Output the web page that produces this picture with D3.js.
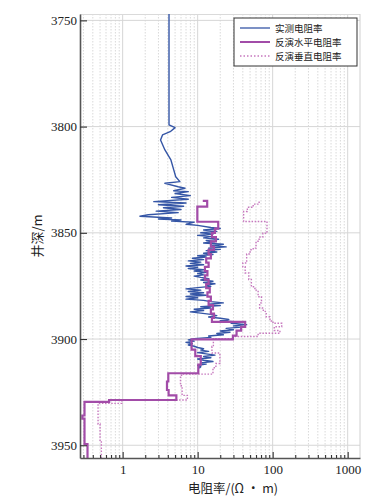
<!DOCTYPE html>
<html><head><meta charset="utf-8">
<script src="https://cdn.jsdelivr.net/npm/d3@7"></script>
<style>body{margin:0;background:#fff}</style>
</head><body><svg id="c" width="389" height="498"></svg>
<script>
const depthDomain = [3747, 3956];
const resDomain = [0.27, 1460];
const depthTicks = [3750, 3800, 3850, 3900, 3950];
const resTicks = [1, 10, 100, 1000];
const seriesNames = ["实测电阻率", "反演水平电阻率", "反演垂直电阻率"];
const yTitle = "井深/m";
const xTitle = "电阻率/(Ω · m)";

// measured resistivity
const measDepth = [3747,3799.2,3800.5,3802.4,3803.9,3806.3,3811,3815.7,3820.4,3823.6,3825.9,3826.7,3828.3,3829,3830.2,3830.6,3831.5,3832.5,3833.3,3834.2,3835.3,3836,3836.8,3837.5,3838.2,3839,3839.8,3840.5,3841.5,3842.2,3843,3843.5,3844,3844.5,3845,3846,3846.5,3847.5,3848,
3848.7,3849.3,3850,3850.6,3851.2,3851.8,3852.4,3853,3853.6,3854.2,3854.8,3855.4,3856,3856.6,3857.2,3857.8,3858.4,3859,3859.6,3860.2,3860.8,3861.4,3862,3862.6,3863.2,3863.8,3864.4,3865,3865.6,3866.2,3866.8,3867.4,3868,3868.6,3869.2,3869.8,3870.4,3871,3871.6,3872.2,3872.8,3873.4,3874,3874.6,3875.2,3875.8,3876.4,3877,3877.6,3878.2,3878.8,3879.4,3880,3880.6,3881.2,3881.8,3882.4,3883,3883.6,3884.2,3884.8,3885.4,3886,3886.6,3887.2,3887.8,3888.4,3889,3889.6,3890.2,3890.8,3891.4,3892,3892.6,3893.2,3893.8,3894.4,3895,3895.6,3896.2,3896.8,3897.4,3898,3898.6,3899.2,3899.8,3900.4,3901,3901.6,3902.2,3902.8,3903.4,3904,3904.6,3905.2,3905.8,3906.4,3907,3907.6,3908.2,3908.8,3909.4,3910,3910.6,3911.2,3911.8,3912.4,3913,3913.7];
const measRes = [4.15,4.15,5.0,4.3,3.4,3.2,3.66,4.4,4.8,5.1,5.8,3.66,5.5,6.8,4.8,7.5,5.0,8.0,4.5,7.5,2.6,7.0,3.0,6.5,3.5,6.0,2.8,5.5,2.2,1.7,4.5,3.0,6.0,4.5,9.0,7.0,10,15,20,
12,18,11,16,10,15,12,19,13,17,12,22,15,24,14,20,13,18,12,16,10,13,8.5,12,7.5,11,8,12,7,10,7.5,12,9,13,10,12,9,11,14,11,16,12,17,13,15,10,7,11,7.5,12,8,13,7,10,7,12,15,22,14,20,11,15,9,12,8,11,15,18,14,20,26,20,34,28,45,30,38,24,30,20,27,18,22,14,15,9,7.5,9,7,8.5,7.5,9,10,12,11,14,10,13,17,12,15,10,12,16,11,13,10,11,10.5];

// inverted horizontal resistivity (layer top depth, value)
const horDepth = [3835.0,3835.0,3837.7,3844.8,3848,3850,3852,3854,3856.5,3858,3860,3862,3864,3866,3868,3870,3872,3874,3876,3878,3880,3882,3884,3886,3888,3890,3891.9,3894.3,3896,3898.4,3900.2,3905,3908,3912,3916.1,3920,3924,3926.5,3928.7,3929.6,3936,3937.5,3949.5,3956];
const horRes = [11.7,13.4,9.9,18.8,17,15.5,17.5,15,16.5,14,15,13,14,12.5,13.5,12.5,14,13,14.5,13.5,15,14,16,15,16.5,15.5,43,38,33,29.5,8.3,9.3,11,10.2,4.06,3.9,4.1,5.2,0.66,0.31,0.29,0.31,0.34,0.34];

// inverted vertical resistivity (layer top depth, value)
const verDepth = [3835.3,3836.5,3838,3840,3844.7,3850.2,3852,3854,3857.2,3858,3860,3864.2,3866,3868.9,3872,3875.4,3877,3880.1,3883,3885.4,3887,3889.5,3891.5,3892.6,3894.2,3896,3897.3,3898.8,3899.9,3903.5,3906.6,3911.5,3913.5,3916.5,3918,3922,3926.5,3928.7,3930.3,3940,3948,3956];
const verRes = [66,55,46,41,84,74,66,60,55,50,45,40,43,48,52,58,64,71,67,75,82,92,101,132,105,125,64,29.5,16.2,15.5,19.8,17.5,16,6.1,5.9,6.2,7.3,0.97,0.47,0.5,0.52,0.52];

const colors = ["#3556a6", "#a24ca8", "#c677be"];

const L = 80, R = 360, T = 14, B = 458;
const svg = d3.select("#c");
const x = d3.scaleLog().domain(resDomain).range([L, R]);
const y = d3.scaleLinear().domain(depthDomain).range([T, B]);

const minor = [];
for (let e = -1; e <= 3; e++) for (let k = 2; k <= 9; k++) {
  const v = k * Math.pow(10, e);
  if (v > resDomain[0] && v < resDomain[1]) minor.push(+v.toPrecision(3));
}

// grid
const g = svg.append("g");
g.selectAll(".vmin").data(minor).enter().append("line")
  .attr("x1", d => x(d)).attr("x2", d => x(d)).attr("y1", T).attr("y2", B)
  .attr("stroke", "#cfcfcf").attr("stroke-width", 0.8).attr("stroke-dasharray", "1.5,1.5");
g.selectAll(".vmaj").data(resTicks).enter().append("line")
  .attr("x1", d => x(d)).attr("x2", d => x(d)).attr("y1", T).attr("y2", B)
  .attr("stroke", "#d6d6d6").attr("stroke-width", 1);
g.selectAll(".hmaj").data(depthTicks).enter().append("line")
  .attr("x1", L).attr("x2", R).attr("y1", d => y(d)).attr("y2", d => y(d))
  .attr("stroke", "#d6d6d6").attr("stroke-width", 1);
g.append("line").attr("x1", L).attr("x2", R).attr("y1", T + 0.5).attr("y2", T + 0.5).attr("stroke", "#dadada");
g.append("line").attr("x1", R).attr("x2", R).attr("y1", T).attr("y2", B).attr("stroke", "#d0d0d0");

svg.append("clipPath").attr("id", "clip").append("rect")
  .attr("x", L).attr("y", T).attr("width", R - L).attr("height", B - T);
const plot = svg.append("g").attr("clip-path", "url(#clip)");

const mk = (ds, vs) => ds.map((d, i) => ({ d, v: vs[i] }));
const lineLin = d3.line().x(p => x(p.v)).y(p => y(p.d));
const lineStep = d3.line().x(p => x(p.v)).y(p => y(p.d)).curve(d3.curveStepBefore);

plot.append("path").datum(mk(verDepth, verRes)).attr("d", lineStep)
  .attr("fill", "none").attr("stroke", colors[2]).attr("stroke-width", 1.4)
  .attr("stroke-dasharray", "1.5,1.6");
plot.append("path").datum(mk(measDepth, measRes)).attr("d", lineLin)
  .attr("fill", "none").attr("stroke", colors[0]).attr("stroke-width", 1.4)
  .attr("stroke-linejoin", "round");
plot.append("path").datum(mk(horDepth, horRes)).attr("d", lineStep)
  .attr("fill", "none").attr("stroke", colors[1]).attr("stroke-width", 2.2);

// axes
const axY = d3.axisLeft(y).tickValues(depthTicks).tickSizeInner(-7).tickSizeOuter(0).tickPadding(3)
  .tickFormat(d3.format("d"));
const gy = svg.append("g").attr("transform", `translate(${L},0)`).call(axY);
const axX = d3.axisBottom(x).tickValues(resTicks).tickSizeInner(-6).tickSizeOuter(0).tickPadding(7)
  .tickFormat(d3.format("d"));
const gx = svg.append("g").attr("transform", `translate(0,${B})`).call(axX);
const axXm = d3.axisBottom(x).tickValues(minor).tickSizeInner(-3).tickSizeOuter(0).tickFormat("");
const gxm = svg.append("g").attr("transform", `translate(0,${B})`).call(axXm);
gxm.select(".domain").remove();
[gy, gx, gxm].forEach(a => {
  a.selectAll(".tick line").attr("stroke", "#333").attr("stroke-width", 1.1);
  a.selectAll(".tick text").attr("font-family", "'Liberation Serif', serif").attr("font-size", 13).attr("fill", "#222");
});
gy.select(".domain").attr("stroke", "#555").attr("stroke-width", 1.6);
gx.select(".domain").attr("stroke", "#555").attr("stroke-width", 1.6);

// titles
svg.append("text").attr("transform", `translate(42,${(T + B) / 2}) rotate(-90)`)
  .attr("text-anchor", "middle").attr("font-family", "'Noto Sans CJK SC', sans-serif")
  .attr("font-size", 13).attr("fill", "#222").text(yTitle);
svg.append("text").attr("x", 233).attr("y", 493)
  .attr("text-anchor", "middle").attr("font-family", "'Noto Sans CJK SC', sans-serif")
  .attr("font-size", 12.5).attr("fill", "#222").text(xTitle);

// legend
const lg = svg.append("g");
lg.append("rect").attr("x", 234).attr("y", 18).attr("width", 123).attr("height", 48)
  .attr("fill", "#fff").attr("stroke", "#333").attr("stroke-width", 1);
seriesNames.forEach((n, i) => {
  const yy = 28 + i * 14;
  lg.append("line").attr("x1", 240).attr("x2", 270).attr("y1", yy).attr("y2", yy)
    .attr("stroke", colors[i]).attr("stroke-width", i === 1 ? 2 : 1.3)
    .attr("stroke-dasharray", i === 2 ? "1.5,2" : null);
  lg.append("text").attr("x", 275).attr("y", yy + 3.5).attr("font-family", "'Noto Sans CJK SC', sans-serif")
    .attr("font-size", 9.5).attr("fill", "#222").text(n);
});
</script></body></html>
